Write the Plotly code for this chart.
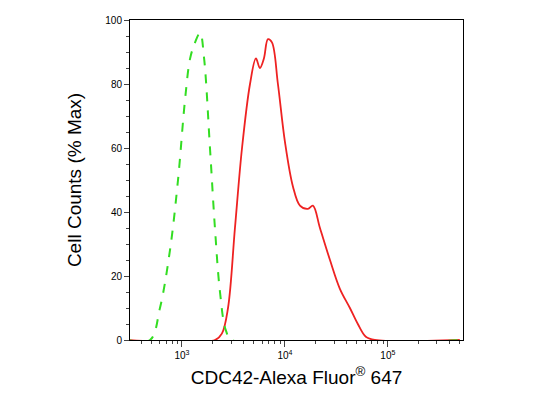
import plotly.graph_objects as go

# isotype control (green dashed)
ctrl_x = [300, 489, 611, 764, 915, 1070, 1200, 1340, 1500, 1640, 1870, 2090, 2340, 2670, 3060, 500000]
ctrl_y = [0, 0, 10, 28, 50, 75, 88, 93, 96, 88, 60, 35, 15, 3, 0, 0]

# CDC42 stained (red)
cdc_x = [300, 2090, 2440, 2800, 3270, 3830, 4580, 5230, 5710, 6250, 6840, 7480, 8550, 10000,
         11960, 14000, 16720, 18700, 21900, 27400, 34200, 42800, 51100, 61100, 74800, 500000]
cdc_y = [0, 0, 2, 10, 35, 60, 80, 88, 85, 88, 94, 93, 80, 62,
         48, 42, 41, 42, 35, 25, 16, 10, 5, 1, 0, 0]

fig = go.Figure()
fig.add_trace(go.Scatter(x=cdc_x, y=cdc_y, mode='lines',
                         line=dict(color='#ee2222', width=1.8, shape='spline')))
fig.add_trace(go.Scatter(x=ctrl_x, y=ctrl_y, mode='lines',
                         line=dict(color='#33dd22', width=2, dash='dash', shape='spline')))

fig.update_layout(
    width=553, height=409, showlegend=False,
    plot_bgcolor='white', paper_bgcolor='white',
    margin=dict(l=122, r=98, t=12, b=77),
    font=dict(family='Liberation Sans, Arial', color='black'),
)
fig.update_xaxes(
    type='log', range=[2.495, 5.73], automargin=False,
    tickvals=[1000, 10000, 100000], ticktext=['10<sup>3</sup>', '10<sup>4</sup>', '10<sup>5</sup>'],
    ticks='outside', ticklen=6, tickfont=dict(size=10),
    minor=dict(ticks='outside', ticklen=3, dtick='D1'),
    showgrid=False, zeroline=False, showline=True, linecolor='black', mirror=True,
    title=dict(text='CDC42-Alexa Fluor<sup>®</sup> 647', font=dict(size=19), standoff=10),
)
fig.update_yaxes(
    range=[0, 100], dtick=20, ticks='outside', ticklen=5, tickfont=dict(size=10),
    minor=dict(ticks='outside', ticklen=3, dtick=5), automargin=False,
    showgrid=False, zeroline=False, showline=True, linecolor='black', mirror=True,
    title=dict(text='Cell Counts (% Max)', font=dict(size=19), standoff=18),
)

fig.write_html("out.html")
